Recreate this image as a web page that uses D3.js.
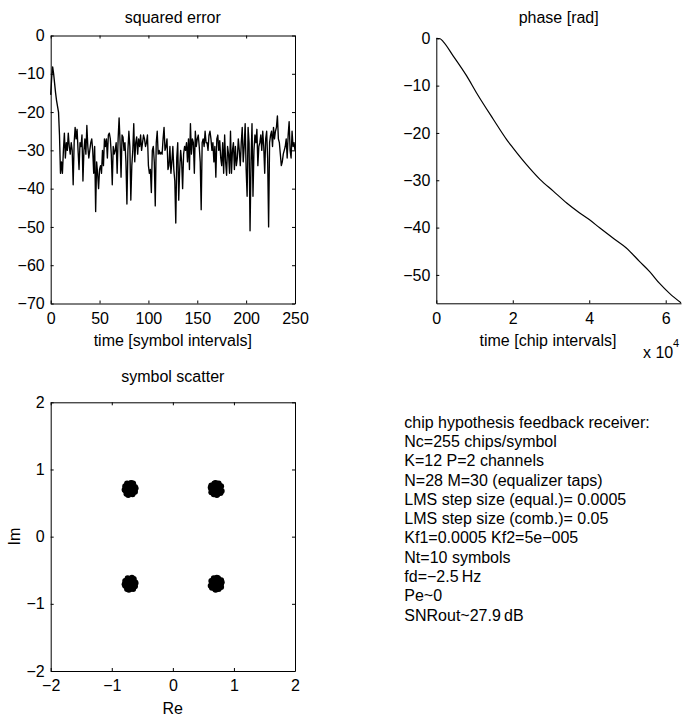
<!DOCTYPE html>
<html>
<head>
<meta charset="utf-8">
<script src="https://cdn.jsdelivr.net/npm/d3@7"></script>
<style>
  body { margin: 0; background: #fff; }
  text { font-family: "Liberation Sans", Arial, sans-serif; fill: #000; }
  .axis path, .axis line { stroke: #000; stroke-width: 1; }
  .axis text { font-size: 16px; font-family: "Liberation Sans", Arial, sans-serif; }
</style>
</head>
<body>
<div id="fig"></div>
<script>
// squared error per symbol interval (dB), t = 0..250
let errT = d3.range(0, 251);
let errDb = [
  -15.5, -11, -8.2, -10, -12.5, -15, -17, -18.5, -20, -26,
  -36, -33, -36, -30, -25.5, -32, -28, -30, -25.5, -29,
  -31, -28, -30, -39, -28, -24, -27, -24.5, -30, -35,
  -28, -29, -26, -38, -30, -27, -31, -23.5, -29, -32,
  -30, -28, -27, -30, -36, -29, -46, -33, -36, -40,
  -35, -34, -36, -30, -34, -27, -29, -27, -32, -26,
  -25.5, -27, -31, -39, -29, -31, -30, -28, -36, -27,
  -21.5, -28, -37, -26, -26.5, -30, -28, -33, -44, -30,
  -25, -29, -43, -34, -30, -23, -33, -28, -26.5, -31,
  -27, -29, -26, -30, -28, -26, -27, -29, -28, -26,
  -34, -36, -35, -41, -30, -29, -33, -44.5, -28, -25,
  -31, -30, -31, -30.5, -31, -27, -24, -30, -29, -27,
  -35, -34, -29, -36, -33, -29, -35, -38, -49, -32,
  -28, -43, -35, -30, -33, -40, -31, -29, -30, -28,
  -33, -27, -35, -23, -31, -27, -28, -36, -25, -29,
  -27, -26, -29, -33, -45.5, -28, -27, -29, -25, -28,
  -28, -30, -26, -25, -27, -30, -28, -33, -29, -37,
  -27, -26, -30, -27.5, -32, -34, -28, -36, -26, -33,
  -36.5, -29, -31, -36, -25, -36, -30, -28, -35, -29,
  -34, -32, -27, -30, -34, -28, -24, -33, -29, -23,
  -35, -42, -24, -28, -51, -33, -23, -42, -30, -26,
  -28, -24.5, -34, -29, -28, -26, -30, -25, -29, -36,
  -27, -25, -32, -50, -28, -26, -25, -29, -24, -27,
  -25, -24, -21, -27, -28, -31, -34, -33, -31, -30,
  -29, -27, -32, -26, -22.5, -30, -32, -25, -29, -28,
  -30
];

// phase estimate [rad] over chip intervals
let phaseT = [0, 1000, 1800, 4400, 7900, 10500, 14900, 18400, 20000, 23600, 27100,
  30600, 34100, 37500, 40000, 42800, 46200, 49700, 53200, 55800, 58400, 61000, 64000];
let phaseRad = [0, -0.1, -0.7, -3.7, -7.9, -11.5, -17.1, -21.4, -23.1, -26.7, -29.8,
  -32.3, -34.8, -36.9, -38.3, -40.1, -42.2, -44.3, -47.2, -49.3, -51.8, -53.9, -55.9];

// equalized symbols, one pair of arrays per QPSK cluster
let symRe1 = [-0.70,-0.66,-0.74,-0.68,-0.75,-0.63,-0.77,-0.67,-0.72,-0.65,-0.75,-0.65,-0.74,-0.70,-0.62,-0.78,-0.67,-0.73,-0.69,-0.71,-0.62,-0.78,-0.65,-0.76,-0.68,-0.73,-0.61,-0.79,-0.66,-0.75];
let symIm1 = [0.71,0.73,0.74,0.66,0.68,0.70,0.72,0.77,0.64,0.76,0.76,0.66,0.65,0.79,0.74,0.69,0.68,0.70,0.75,0.67,0.67,0.75,0.79,0.64,0.80,0.62,0.72,0.70,0.63,0.79];
let symRe2 = [0.71,0.69,0.68,0.76,0.74,0.72,0.70,0.65,0.78,0.66,0.66,0.76,0.77,0.63,0.68,0.73,0.74,0.72,0.67,0.75,0.75,0.67,0.63,0.78,0.62,0.80,0.70,0.72,0.79,0.63];
let symIm2 = [0.71,0.75,0.67,0.73,0.66,0.78,0.64,0.74,0.69,0.76,0.66,0.76,0.67,0.71,0.79,0.63,0.74,0.68,0.72,0.70,0.79,0.63,0.76,0.65,0.73,0.68,0.80,0.62,0.75,0.66];
let symRe3 = [-0.70,-0.74,-0.66,-0.72,-0.65,-0.77,-0.63,-0.73,-0.68,-0.75,-0.65,-0.75,-0.66,-0.70,-0.78,-0.62,-0.73,-0.67,-0.71,-0.69,-0.78,-0.62,-0.75,-0.64,-0.72,-0.67,-0.79,-0.61,-0.74,-0.65];
let symIm3 = [-0.70,-0.72,-0.73,-0.65,-0.67,-0.69,-0.71,-0.76,-0.63,-0.75,-0.75,-0.65,-0.64,-0.78,-0.73,-0.68,-0.67,-0.69,-0.74,-0.66,-0.66,-0.74,-0.78,-0.63,-0.79,-0.61,-0.71,-0.69,-0.62,-0.78];
let symRe4 = [0.71,0.73,0.74,0.66,0.68,0.70,0.72,0.77,0.64,0.76,0.76,0.66,0.65,0.79,0.74,0.69,0.68,0.70,0.75,0.67,0.67,0.75,0.79,0.64,0.80,0.62,0.72,0.70,0.63,0.79];
let symIm4 = [-0.70,-0.66,-0.74,-0.68,-0.75,-0.63,-0.77,-0.67,-0.72,-0.65,-0.75,-0.65,-0.74,-0.70,-0.62,-0.78,-0.67,-0.73,-0.69,-0.71,-0.62,-0.78,-0.65,-0.76,-0.68,-0.73,-0.61,-0.79,-0.66,-0.75];

// tick values
let errXTicks = [0, 50, 100, 150, 200, 250];
let errYTicks = [0, -10, -20, -30, -40, -50, -60, -70];
let phaseXTicks = [0, 20000, 40000, 60000];
let phaseYTicks = [0, -10, -20, -30, -40, -50];
let scatTicks = [-2, -1, 0, 1, 2];

// parameter text
let infoLines = [
  "chip hypothesis feedback receiver:",
  "Nc=255 chips/symbol",
  "K=12 P=2 channels",
  "N=28 M=30 (equalizer taps)",
  "LMS step size (equal.)= 0.0005",
  "LMS step size (comb.)= 0.05",
  "Kf1=0.0005 Kf2=5e\u2212005",
  "Nt=10 symbols",
  "fd=\u22122.5\u2009Hz",
  "Pe~0",
  "SNRout~27.9\u2009dB"
];

let svgWidth = 683, svgHeight = 718;
let tick = 3;
let minus = d => String(d).replace("-", "\u2212");

let svg = d3.select("#fig")
  .append("svg")
  .attr("width", svgWidth)
  .attr("height", svgHeight);

// ============= squared error =================
let x1 = d3.scaleLinear().domain([0, 250]).range([50.7, 295]);
let y1 = d3.scaleLinear().domain([-70, 0]).range([303.5, 35.5]);

svg.append("g").attr("class", "axis")
  .attr("transform", `translate(0,${y1(-70)})`)
  .call(d3.axisBottom(x1).tickValues(errXTicks).tickSize(-tick).tickSizeOuter(0).tickPadding(9).tickFormat(minus));
svg.append("g").attr("class", "axis")
  .attr("transform", `translate(${x1(0)},0)`)
  .call(d3.axisLeft(y1).tickValues(errYTicks).tickSize(-tick).tickSizeOuter(0).tickPadding(6).tickFormat(minus));
svg.append("g").attr("class", "axis")
  .attr("transform", `translate(0,${y1(0)})`)
  .call(d3.axisTop(x1).tickValues(errXTicks).tickSize(-tick).tickSizeOuter(0).tickFormat(""));
svg.append("g").attr("class", "axis")
  .attr("transform", `translate(${x1(250)},0)`)
  .call(d3.axisRight(y1).tickValues(errYTicks).tickSize(-tick).tickSizeOuter(0).tickFormat(""));

svg.append("path")
  .datum(errT)
  .attr("fill", "none")
  .attr("stroke", "#000")
  .attr("stroke-width", 1.35)
  .attr("stroke-linejoin", "round")
  .attr("d", d3.line().x(d => x1(d)).y((d, i) => y1(errDb[i])));

svg.append("text").attr("x", 172.8).attr("y", 17).attr("dy", "0.35em")
  .attr("text-anchor", "middle").style("font-size", "16px").text("squared error");
svg.append("text").attr("x", 172.8).attr("y", 340).attr("dy", "0.35em")
  .attr("text-anchor", "middle").style("font-size", "16px").text("time [symbol intervals]");

// ============= phase =================
let x2 = d3.scaleLinear().domain([0, 64000]).range([436.3, 681]);
let y2 = d3.scaleLinear().domain([-56, 0]).range([303.3, 38.3]);

svg.append("g").attr("class", "axis")
  .attr("transform", `translate(0,${y2(-56)})`)
  .call(d3.axisBottom(x2).tickValues(phaseXTicks).tickSize(-tick).tickSizeOuter(0).tickPadding(9).tickFormat(d => d / 10000));
svg.append("g").attr("class", "axis")
  .attr("transform", `translate(${x2(0)},0)`)
  .call(d3.axisLeft(y2).tickValues(phaseYTicks).tickSize(-tick).tickSizeOuter(0).tickPadding(6).tickFormat(minus));

svg.append("path")
  .datum(phaseT)
  .attr("fill", "none")
  .attr("stroke", "#000")
  .attr("stroke-width", 1.2)
  .attr("d", d3.line().curve(d3.curveMonotoneX).x(d => x2(d)).y((d, i) => y2(phaseRad[i])));

svg.append("text").attr("x", 558.7).attr("y", 17).attr("dy", "0.35em")
  .attr("text-anchor", "middle").style("font-size", "16px").text("phase [rad]");
svg.append("text").attr("x", 548).attr("y", 340).attr("dy", "0.35em")
  .attr("text-anchor", "middle").style("font-size", "16px").text("time [chip intervals]");
svg.append("text").attr("x", 643).attr("y", 352).attr("dy", "0.35em")
  .style("font-size", "16px").text("x 10");
svg.append("text").attr("x", 673).attr("y", 343).attr("dy", "0.35em")
  .style("font-size", "11px").text("4");

// ============= symbol scatter =================
let x3 = d3.scaleLinear().domain([-2, 2]).range([50.7, 295]);
let y3 = d3.scaleLinear().domain([-2, 2]).range([671, 402.3]);

svg.append("g").attr("class", "axis")
  .attr("transform", `translate(0,${y3(-2)})`)
  .call(d3.axisBottom(x3).tickValues(scatTicks).tickSize(-tick).tickSizeOuter(0).tickPadding(9).tickFormat(minus));
svg.append("g").attr("class", "axis")
  .attr("transform", `translate(${x3(-2)},0)`)
  .call(d3.axisLeft(y3).tickValues(scatTicks).tickSize(-tick).tickSizeOuter(0).tickPadding(6).tickFormat(minus));
svg.append("g").attr("class", "axis")
  .attr("transform", `translate(0,${y3(2)})`)
  .call(d3.axisTop(x3).tickValues(scatTicks).tickSize(-tick).tickSizeOuter(0).tickFormat(""));
svg.append("g").attr("class", "axis")
  .attr("transform", `translate(${x3(2)},0)`)
  .call(d3.axisRight(y3).tickValues(scatTicks).tickSize(-tick).tickSizeOuter(0).tickFormat(""));

let clusters = [[symRe1, symIm1], [symRe2, symIm2], [symRe3, symIm3], [symRe4, symIm4]];
let points = [];
clusters.forEach(c => c[0].forEach((re, i) => points.push({ re: re, im: c[1][i] })));

svg.append("g")
  .selectAll("circle")
  .data(points)
  .enter()
  .append("circle")
  .attr("cx", d => x3(d.re))
  .attr("cy", d => y3(d.im))
  .attr("r", 3)
  .attr("fill", "#000");

svg.append("text").attr("x", 172.8).attr("y", 376.7).attr("dy", "0.35em")
  .attr("text-anchor", "middle").style("font-size", "16px").text("symbol scatter");
svg.append("text").attr("x", 172.8).attr("y", 708).attr("dy", "0.35em")
  .attr("text-anchor", "middle").style("font-size", "16px").text("Re");
svg.append("text")
  .attr("transform", `translate(14.5,${y3(0)}) rotate(-90)`)
  .attr("dy", "0.35em")
  .attr("text-anchor", "middle").style("font-size", "16px").text("Im");

// ============= parameter text =================
svg.append("g")
  .selectAll("text")
  .data(infoLines)
  .enter()
  .append("text")
  .attr("x", 404.3)
  .attr("y", (d, i) => 422 + i * 19.3)
  .attr("dy", "0.35em")
  .style("font-size", "16px")
  .text(d => d);
</script>
</body>
</html>
